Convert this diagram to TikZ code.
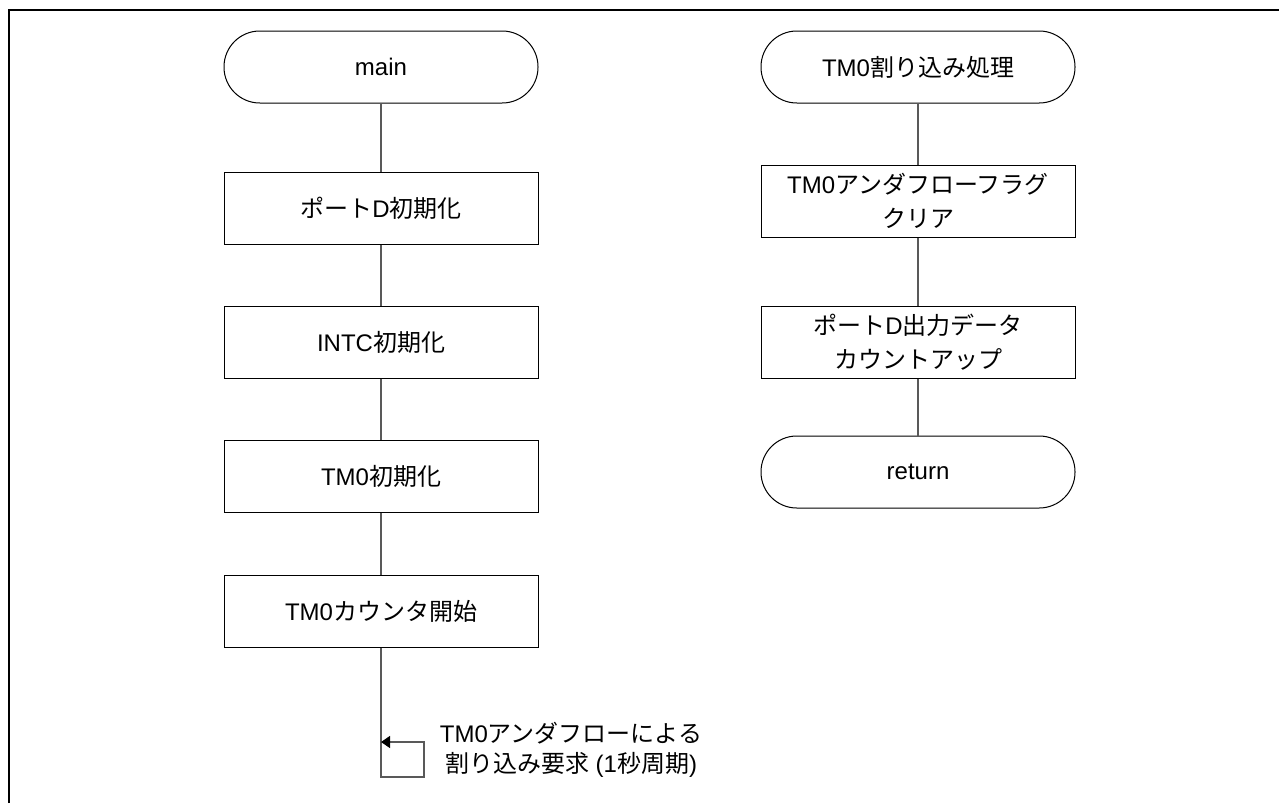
\documentclass[tikz,border=0pt]{standalone}
\usepackage{fontspec}
\setmainfont{Liberation Sans}
\newfontfamily\jp{Noto Sans CJK JP}
\usetikzlibrary{arrows.meta}
\definecolor{flowgray}{gray}{0.35}

\begin{document}
\begin{tikzpicture}[x=0.5pt,y=-0.5pt,
		font=\fontsize{12}{17}\selectfont,
		term/.style={draw,rectangle,rounded corners=17.9pt,minimum width=157pt,minimum height=36pt,line width=0.5pt},
		proc/.style={draw,rectangle,minimum width=157pt,minimum height=36pt,align=center,line width=0.5pt},
		flow/.style={draw=flowgray,line width=0.6pt}]
			\useasboundingbox (0,0) rectangle (1279,803);
			%Frame
			\draw[line width=1pt] (9,803) -- (9,10) -- (1279,10);
			%Main routine
			\node[term] (main) at (381,67) {main};
			\node[proc] (portinit) at (381,208) {{\jp ポート}D{\jp 初期化}};
			\node[proc] (intcinit) at (381,342) {INTC{\jp 初期化}};
			\node[proc] (tminit) at (381,476) {TM0{\jp 初期化}};
			\node[proc] (tmstart) at (381,611) {TM0{\jp カウンタ開始}};
			\coordinate (loopR) at (424,777);
			\coordinate (loopT) at (381,742);
			\node[align=center,font=\fontsize{12}{15}\selectfont] (irqtext) at (571,750) {TM0{\jp アンダフローによる}\\{\jp 割り込み要求} (1{\jp 秒周期})};
			\draw[flow] (main) -- (portinit);
			\draw[flow] (portinit) -- (intcinit);
			\draw[flow] (intcinit) -- (tminit);
			\draw[flow] (tminit) -- (tmstart);
			\draw[flow,-{Triangle[length=4.5pt,width=6pt,black]}] (tmstart.south) |- (loopR) |- (loopT);
			%Interrupt routine
			\node[term] (isr) at (918,67) {TM0{\jp 割り込み処理}};
			\node[proc] (flagclr) at (918,201) {TM0{\jp アンダフローフラグ}\\{\jp クリア}};
			\node[proc] (countup) at (918,342) {{\jp ポート}D{\jp 出力データ}\\{\jp カウントアップ}};
			\node[term] (ret) at (918,472) {return};
			\draw[flow] (isr) -- (flagclr);
			\draw[flow] (flagclr) -- (countup);
			\draw[flow] (countup) -- (ret);
		\end{tikzpicture}
\end{document}
